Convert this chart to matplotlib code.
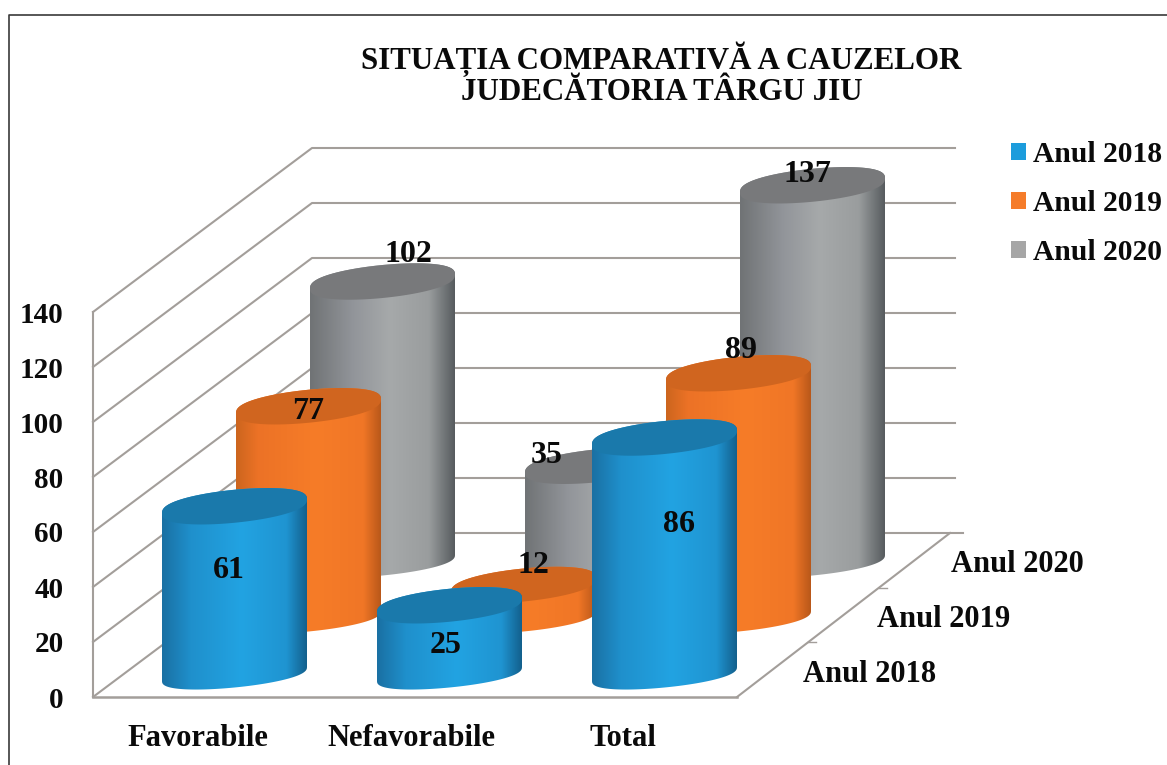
import numpy as np
import matplotlib
matplotlib.use("Agg")
import matplotlib.pyplot as plt
from matplotlib.colors import LinearSegmentedColormap
from matplotlib.patches import Patch, Polygon

plt.rcParams['font.family'] = ['Liberation Serif', 'DejaVu Serif']
plt.rcParams['font.weight'] = 'bold'

# data
categories = ["Favorabile", "Nefavorabile", "Total"]
series = ["Anul 2018", "Anul 2019", "Anul 2020"]
values_2018 = [61, 25, 86]
values_2019 = [77, 12, 89]
values_2020 = [102, 35, 137]
y_ticks = [0, 20, 40, 60, 80, 100, 120, 140]
title_lines = ["SITUAȚIA COMPARATIVĂ A CAUZELOR", "JUDECĂTORIA TÂRGU JIU"]

all_values = [values_2018, values_2019, values_2020]

# oblique projection, in picture pixels
px_per_unit = 2.75
cat_step = 215
depth_dx = 74
depth_dy = 56
first_x = 234.5
first_y = 674
half_w = 72.5
shear = 7
top_b = 16.5
bottom_b = 13.5

# wall and floor corners
wall_front_x = 93
wall_back_x = 312
floor_front_y = 697
floor_back_y = 533
floor_right_x = 737
grid_right_x = 955

# gradient across each cylinder, left edge to right edge
body_colors = [
    [(0, "#1a70a3"), (0.2, "#1f90cc"), (0.55, "#22a3e2"), (0.86, "#1f94d1"), (1, "#13608d")],
    [(0, "#cc651e"), (0.15, "#ec7226"), (0.55, "#f67c28"), (0.88, "#f07626"), (1, "#b9581a")],
    [(0, "#707375"), (0.3, "#92959a"), (0.55, "#a6a9aa"), (0.82, "#9a9d9e"), (1, "#575c5f")],
]
top_colors = ["#1a79ab", "#d0651f", "#78797b"]
legend_colors = ["#1c9cdc", "#f57c2a", "#a6a6a6"]
grid_color = "#a39e9a"

# where the picture puts each value label, relative to the cylinder top
label_offsets = [
    [(-6, 61), (-4, 37), (14, 83)],
    [(0, 2), (10, -23), (3, -26)],
    [(26, -31), (-51, -14), (-5, -14)],
]


def project_x(cat, depth):
    return first_x + cat_step * cat + depth_dx * depth


def project_y(depth, value):
    return first_y - depth_dy * depth - px_per_unit * value


def ellipse(cx, cy, b, t):
    # slightly squared ends, as in the picture
    s = np.sin(t)
    return cx + half_w * np.cos(t), cy + b * np.sign(s) * np.abs(s) ** 0.8 - shear * np.cos(t)


def draw_cylinder(ax, cat, depth, value, zorder):
    cx = project_x(cat, depth)
    base_y = project_y(depth, 0)
    top_y = project_y(depth, value)

    low = np.linspace(np.pi, 0, 80)
    upper = np.linspace(0, -np.pi, 80)
    xb, yb = ellipse(cx, base_y, bottom_b, low)
    xt, yt = ellipse(cx, top_y, top_b, upper)
    outline = np.column_stack([np.r_[xb, xt], np.r_[yb, yt]])

    cmap = LinearSegmentedColormap.from_list("body", body_colors[depth])
    grad = np.linspace(0, 1, 256)[None, :]
    img = ax.imshow(grad, cmap=cmap, aspect="auto", zorder=zorder, interpolation="bilinear",
                    extent=(cx - half_w, cx + half_w, base_y + 30, top_y - 30))
    clip = Polygon(outline, closed=True, transform=ax.transData, fc="none", ec="none")
    ax.add_patch(clip)
    img.set_clip_path(clip)

    all_t = np.linspace(0, 2 * np.pi, 160)
    xe, ye = ellipse(cx, top_y, top_b, all_t)
    ax.fill(xe, ye, color=top_colors[depth], lw=0, zorder=zorder + 0.1)


fig = plt.figure(figsize=(11.67, 7.65), dpi=100)
ax = fig.add_axes([0, 0, 1, 1])

# frame of the picture, only top and left are visible
ax.plot([9, 9, 1167], [765, 14.7, 14.7], color="#3a3a3a", lw=1.2, zorder=1)

# left wall and back wall grid
for tick in y_ticks:
    front_y = floor_front_y - px_per_unit * tick
    back_y = floor_back_y - px_per_unit * tick
    end_x = grid_right_x if tick > 0 else 963
    ax.plot([wall_front_x, wall_back_x, end_x], [front_y, back_y, back_y],
            color=grid_color, lw=1.5, zorder=2)
    ax.text(63.5, front_y, str(tick), ha="right", va="center_baseline", fontsize=21, color="#0a0a0a", zorder=20)

ax.plot([wall_front_x, wall_front_x], [floor_front_y - px_per_unit * y_ticks[-1], floor_front_y],
        color=grid_color, lw=1.5, zorder=2)
ax.plot([wall_front_x, floor_right_x], [floor_front_y, floor_front_y], color=grid_color, lw=1.8, zorder=2)
ax.plot([floor_right_x, 950], [floor_front_y, floor_back_y], color=grid_color, lw=1.5, zorder=2)

# small ticks on the floor's right edge, between the rows
for part in [1 / 3, 2 / 3]:
    tx = floor_right_x + (950 - floor_right_x) * part
    ty = floor_front_y + (floor_back_y - floor_front_y) * part
    ax.plot([tx, tx + 8], [ty, ty], color=grid_color, lw=1, zorder=2)

# cylinders, back row first
z = 5
for depth in [2, 1, 0]:
    for cat in range(len(categories)):
        draw_cylinder(ax, cat, depth, all_values[depth][cat], z)
        z += 1

# value labels
for depth in range(len(series)):
    for cat in range(len(categories)):
        value = all_values[depth][cat]
        dx, dy = label_offsets[depth][cat]
        ax.text(project_x(cat, depth) + dx, project_y(depth, value) + dy, str(value),
                ha="center", va="center_baseline", fontsize=23, color="#0a0a0a", zorder=30)

# category and depth labels
for cat, name in enumerate(categories):
    ax.text(198 + 213 * cat - (cat == 2), 735, name, ha="center", va="center_baseline",
            fontsize=22, color="#0a0a0a")
for depth, name in enumerate(series):
    ax.text(870 + 73.5 * depth, 671 - 55 * depth, name, ha="center", va="center_baseline",
            fontsize=22, color="#0a0a0a")

# title
ax.text(661.5, 55, title_lines[0], ha="center", va="center_baseline", fontsize=22.3, color="#0a0a0a")
ax.text(661.5, 89, title_lines[1], ha="center", va="center_baseline", fontsize=22.3, color="#0a0a0a")

# legend
handles = [Patch(facecolor=c, edgecolor="none") for c in legend_colors]
leg = ax.legend(handles, series, loc="upper left", bbox_to_anchor=(1011, 141), bbox_transform=ax.transData,
                frameon=False, fontsize=21.3, handlelength=0.51, handleheight=0.51, handletextpad=0.25,
                labelspacing=0.74, borderpad=0, borderaxespad=0)
for t in leg.get_texts():
    t.set_color("#0a0a0a")

ax.set_xlim(0, 1167)
ax.set_ylim(765, 0)
ax.axis("off")

fig.savefig("out.png", dpi=100, facecolor="white")
